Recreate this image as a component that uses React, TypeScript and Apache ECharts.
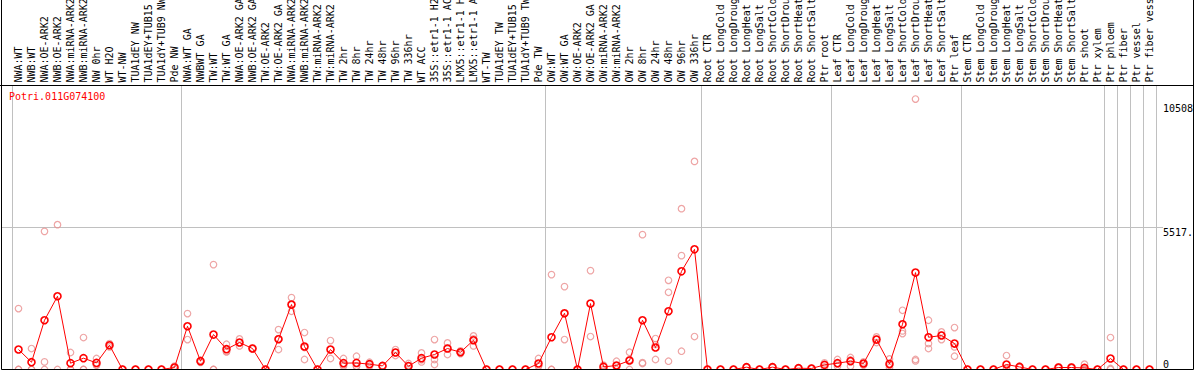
import React, { useEffect, useRef } from 'react';
import * as echarts from 'echarts';

const geneId = 'Potri.011G074100';

const categories = [
  'NWA:WT', 'NWB:WT', 'NWA:OE-ARK2', 'NWB:OE-ARK2', 'NWA:miRNA-ARK2', 'NWB:miRNA-ARK2', 'NW 0hr', 'WT H2O', 'WT-NW',
  'TUA1dEY NW', 'TUA1dEY+TUB15 NW', 'TUA1dY+TUB9 NW', 'Pde NW',
  'NWA:WT GA', 'NWBWT GA', 'TW:WT', 'TW:WT GA', 'NWA:OE-ARK2 GA', 'NWB:OE-ARK2 GA', 'TW:OE-ARK2', 'TW:OE-ARK2 GA',
  'NWA:miRNA-ARK2 GA', 'NWB:miRNA-ARK2 GA', 'TW:miRNA-ARK2', 'TW:miRNA-ARK2 GA', 'TW 2hr', 'TW 8hr', 'TW 24hr',
  'TW 48hr', 'TW 96hr', 'TW 336hr', 'WT ACC', '35S::etr1-1 H2O', '35S::etr1-1 ACC', 'LMX5::etr1-1 H2O',
  'LMX5::etr1-1 ACC', 'WT-TW', 'TUA1dEY TW', 'TUA1dEY+TUB15 TW', 'TUA1dY+TUB9 TW', 'Pde TW',
  'OW:WT', 'OW:WT GA', 'OW:OE-ARK2', 'OW:OE-ARK2 GA', 'OW:miRNA-ARK2', 'OW:miRNA-ARK2 GA', 'OW 2hr', 'OW 8hr',
  'OW 24hr', 'OW 48hr', 'OW 96hr', 'OW 336hr',
  'Root CTR', 'Root LongCold', 'Root LongDrought', 'Root LongHeat', 'Root LongSalt', 'Root ShortCold',
  'Root ShortDrought', 'Root ShortHeat', 'Root ShortSalt', 'Ptr root',
  'Leaf CTR', 'Leaf LongCold', 'Leaf LongDrought', 'Leaf LongHeat', 'Leaf LongSalt', 'Leaf ShortCold',
  'Leaf ShortDrought', 'Leaf ShortHeat', 'Leaf ShortSalt', 'Ptr leaf',
  'Stem CTR', 'Stem LongCold', 'Stem LongDrought', 'Stem LongHeat', 'Stem LongSalt', 'Stem ShortCold',
  'Stem ShortDrought', 'Stem ShortHeat', 'Stem ShortSalt', 'Ptr shoot', 'Ptr xylem',
  'Ptr phloem', 'Ptr fiber', 'Ptr vessel', 'Ptr fiber vessel',
];

// first category index of each sample group (group separators)
const groupStarts = [0, 13, 41, 53, 63, 73, 84, 85, 86, 87];

const meanValues = [
  776, 283, 1913, 2845, 245, 439, 256, 943, 0, 0, 0, 0, 78,
  1680, 322, 1358, 788, 1048, 815, 0, 1176, 2523, 893, 0, 776, 245, 256, 206, 140, 660, 128, 439, 582, 815, 671,
  1137, 0, 0, 0, 0, 233,
  1254, 2185, 0, 2561, 101, 155, 349, 1913, 854, 2263, 3815, 4669,
  0, 0, 0, 90, 0, 92, 0, 50, 40, 179,
  245, 322, 233, 1164, 217, 1758, 3765, 1254, 1320, 1009,
  0, 0, 0, 194, 100, 0, 0, 78, 78, 60, 0,
  427, 0, 0, 0,
];

const repA = [
  2367, 815, 5367, 5627, 660, 1242, 427, 1009, 0, 0, 0, 0, 130,
  2173, 360, 4075, 982, 1188, 830, 0, 1552, 2794, 1436, 0, 1125, 427, 516, 283, 150, 776, 233, 644, 1164, 1032, 722,
  1304, 0, 0, 0, 0, 427,
  3687, 3221, 0, 3842, 167, 322, 671, 5239, 1203, 3466, 6248, 8084,
  0, 0, 0, 100, 0, 110, 0, 60, 50, 256,
  388, 466, 295, 1265, 411, 2301, 10508, 1913, 1459, 1630,
  0, 0, 0, 543, 130, 0, 0, 100, 100, 206, 0,
  1242, 0, 0, 0,
];

const repB = [
  0, 0, 295, 0, 0, 0, 167, 877, 0, 0, 0, 0, 0,
  1164, 280, 0, 683, 916, 800, 0, 776, 2263, 388, 0, 427, 128, 128, 128, 130, 543, 0, 295, 388, 582, 620,
  916, 0, 0, 0, 0, 130,
  0, 1164, 0, 1281, 0, 0, 0, 233, 388, 3000, 4424, 1281,
  0, 0, 0, 80, 0, 75, 0, 40, 30, 100,
  128, 128, 170, 1048, 78, 1498, 388, 1009, 1164, 877,
  0, 0, 0, 0, 80, 0, 0, 60, 60, 0, 0,
  40, 0, 0, 0,
];

const repC = [
  0, 0, 0, null, 0, 0, 175, 943, 0, 0, 0, 0, 100,
  null, 326, 0, 700, 1040, 815, 0, 1200, 2512, 855, 0, 776, 180, 124, 207, 140, 661, 150, 378, 194, 831, 671,
  1190, 0, 0, 0, 0, 140,
  0, 2170, 0, null, 136, 143, 376, 267, 970, 322, 710, null,
  0, 0, 0, 90, 0, 91, 0, 50, 40, 180,
  220, 370, 235, 1180, 162, 1397, 334, 815, 1340, 516,
  0, 0, 0, 40, 90, 0, 0, 74, 74, 0, 0,
  0, 0, 0, 0,
];

const axisMax = 11034.4;
const midTick = 5517.2;
const maxTick = 10508;

export default function App() {
  const ref = useRef<HTMLDivElement>(null);

  useEffect(() => {
    const chart = echarts.init(ref.current!, null, { renderer: 'svg' });
    const font = "'DejaVu Sans Mono', monospace";
    const isBoundary = (i: number) => groupStarts.indexOf(i) >= 0;

    const repSeries = [repA, repB, repC].map((arr, k) => ({
      type: 'scatter',
      name: 'rep' + (k + 1),
      xAxisIndex: 0,
      yAxisIndex: 0,
      data: arr.map((v, i) => (v === null ? null : [i, v])).filter((d) => d !== null),
      symbol: 'circle',
      symbolSize: 6.5,
      itemStyle: { color: 'rgba(0,0,0,0)', borderColor: '#ea8e8e', borderWidth: 1.2 },
      z: 2,
      silent: true,
    }));

    const labelAxisBase = {
      gridIndex: 0,
      type: 'value',
      min: 0,
      max: axisMax,
      position: 'right',
      offset: 0,
      axisLine: { show: false },
      axisTick: { show: false },
      splitLine: { show: false },
    };
    const labelStyle = { fontFamily: font, fontSize: 10, color: '#000', margin: 7 };

    chart.setOption({
      animation: false,
      backgroundColor: '#fff',
      title: {
        text: geneId,
        left: 9,
        top: 91,
        padding: 0,
        textStyle: { color: '#ff0000', fontSize: 10, fontFamily: font, fontWeight: 'normal' },
      },
      grid: [
        { left: 12, right: 38, top: 85.5, bottom: 0.5, containLabel: false, outerBoundsMode: 'none' },
        { left: 1.5, width: 1161.5, top: 85.5, bottom: 0.5, containLabel: false, outerBoundsMode: 'none' },
      ],
      xAxis: [
        {
          gridIndex: 0,
          type: 'category',
          data: categories,
          position: 'top',
          boundaryGap: true,
          axisLine: { show: false },
          axisTick: {
            show: true,
            interval: (i: number) => isBoundary(i),
            length: 86,
            lineStyle: { color: '#c0c0c0', width: 1 },
          },
          splitLine: {
            show: true,
            interval: (i: number) => isBoundary(i),
            lineStyle: { color: '#c0c0c0', width: 1 },
          },
          axisLabel: { interval: 0, rotate: 90, margin: 3, fontFamily: font, fontSize: 10, color: '#000' },
        },
        { gridIndex: 1, type: 'value', show: false, min: 0, max: 1 },
      ],
      yAxis: [
        {
          ...labelAxisBase,
          axisLabel: {
            ...labelStyle,
            customValues: [midTick],
            verticalAlign: 'top',
            formatter: (v: number) => String(v).slice(0, 5),
          },
        },
        {
          ...labelAxisBase,
          axisLabel: {
            ...labelStyle,
            customValues: [maxTick],
            verticalAlign: 'top',
            padding: [4, 0, 0, 0],
            formatter: (v: number) => String(Math.round(v)),
          },
        },
        {
          ...labelAxisBase,
          axisLabel: {
            ...labelStyle,
            customValues: [0],
            verticalAlign: 'bottom',
            formatter: (v: number) => String(v),
          },
        },
        {
          gridIndex: 1,
          type: 'value',
          min: 0,
          max: axisMax,
          interval: midTick,
          axisLine: { show: false },
          axisTick: { show: false },
          axisLabel: { show: false },
          splitLine: { show: true, lineStyle: { color: '#c0c0c0', width: 1 } },
        },
      ],
      graphic: {
        elements: [
          {
            type: 'rect',
            shape: { x: 1.5, y: -1, width: 1192, height: 370.5 },
            style: { fill: 'none', stroke: '#000', lineWidth: 1 },
            z: 100,
            silent: true,
          },
          {
            type: 'line',
            shape: { x1: 0, y1: 85.5, x2: 1194, y2: 85.5 },
            style: { stroke: '#000', lineWidth: 1 },
            z: 100,
            silent: true,
          },
        ],
      },
      series: [
        ...repSeries,
        {
          type: 'line',
          name: geneId,
          xAxisIndex: 0,
          yAxisIndex: 0,
          data: meanValues,
          symbol: 'circle',
          symbolSize: 7,
          showAllSymbol: true,
          lineStyle: { color: '#ff0000', width: 1 },
          itemStyle: { color: 'rgba(0,0,0,0)', borderColor: '#ff0000', borderWidth: 1.6 },
          z: 3,
          silent: true,
        },
      ],
    });

    return () => chart.dispose();
  }, []);

  return (
    <div
      ref={ref}
      style={{ position: 'fixed', left: 0, top: 0, width: 1194, height: 370, background: '#fff' }}
    />
  );
}
